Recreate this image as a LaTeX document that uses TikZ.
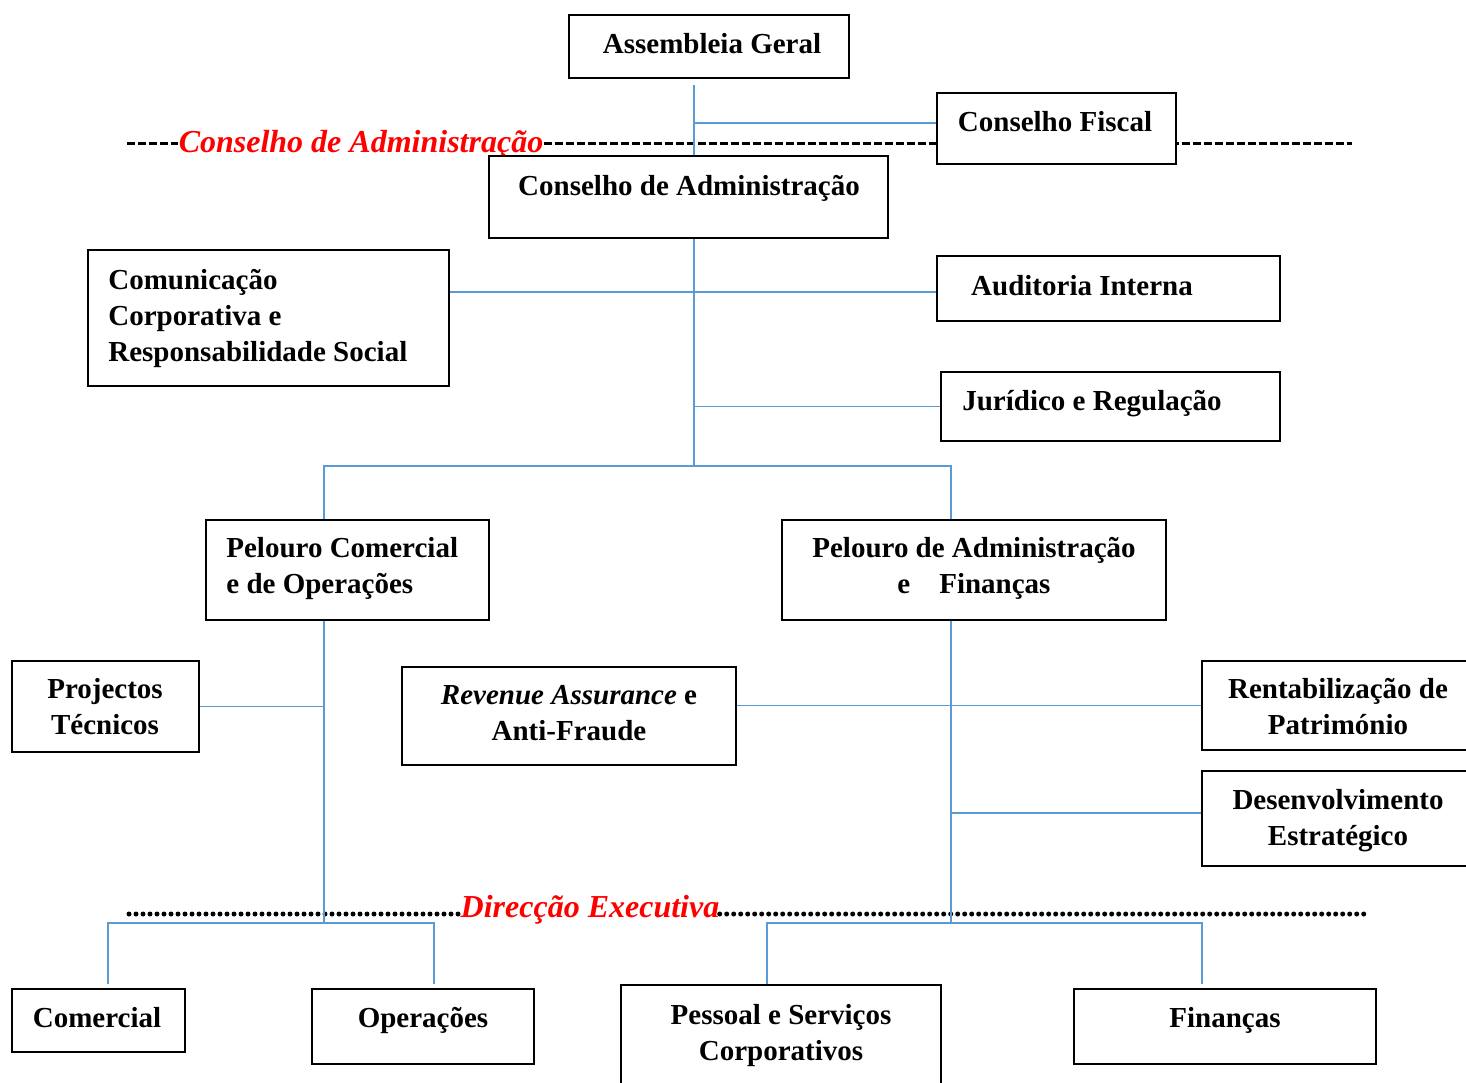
\documentclass[tikz,border=0pt]{standalone}
\usepackage{fontspec}
\setmainfont{Liberation Serif}
\usetikzlibrary{fit}
\definecolor{orgblue}{RGB}{91,155,213}
\definecolor{orgred}{RGB}{255,0,0}

\begin{document}
\begin{tikzpicture}[
  x=0.5pt,y=-0.5pt,
  font=\fontsize{14.5}{18}\selectfont\bfseries,
  box/.style={draw,line width=0.8pt,fill=white,inner sep=0pt},
  lbl/.style={inner sep=0pt,anchor=base},
  mlbl/.style={inner sep=0pt,anchor=north,align=center},
  llbl/.style={inner sep=0pt,anchor=north west,align=left},
  link/.style={orgblue,line width=0.75pt},
  tier/.style={font=\fontsize{16}{19}\selectfont\bfseries\itshape,text=orgred,inner sep=0pt,anchor=base},
  dashline/.style={line width=1.5pt,dash pattern=on 4pt off 1.5pt},
  dotline/.style={line width=2.5pt,dash pattern=on 0pt off 3.5pt,line cap=round},
  ]
  \useasboundingbox (0,0) rectangle (1466,1082);
  % tier separators
  \node[tier] (ca-tag) at (361,152) {Conselho de Administração};
  \coordinate (ca-l) at (127,143);
  \coordinate (ca-r) at (1352,143);
  \draw[dashline] (ca-l) -- (ca-l -| ca-tag.west);
  \draw[dashline] (ca-l -| ca-tag.east) -- (ca-r);
  \node[tier] (de-tag) at (590,917) {Direcção Executiva};
  \coordinate (de-l) at (129,914);
  \coordinate (de-r) at (1366,914);
  \draw[dotline] (de-l) -- (de-l -| de-tag.west);
  \draw[dotline] (de-l -| de-tag.east) -- (de-r);

  % boxes
  \node[box,fit={(569,15) (849,78)}] (ag) {};
  \node[box,fit={(937,93) (1176,164)}] (cf) {};
  \node[box,fit={(489,156) (888,238)}] (cad) {};
  \node[box,fit={(88,250) (449,386)}] (cc) {};
  \node[box,fit={(937,256) (1280,321)}] (ai) {};
  \node[box,fit={(941,372) (1280,441)}] (jr) {};
  \node[box,fit={(206,520) (489,620)}] (pco) {};
  \node[box,fit={(782,520) (1166,620)}] (paf) {};
  \node[box,fit={(12,661) (199,752)}] (pt) {};
  \node[box,fit={(402,667) (736,765)}] (ra) {};
  \node[box,fit={(1202,661) (1480,750)}] (rp) {};
  \node[box,fit={(1202,771) (1480,866)}] (dse) {};
  \node[box,fit={(12,989) (185,1052)}] (com) {};
  \node[box,fit={(312,989) (534,1064)}] (ope) {};
  \node[box,fit={(621,985) (941,1095)}] (psc) {};
  \node[box,fit={(1074,989) (1376,1064)}] (fin) {};

  % connectors
  \coordinate (t0) at (694,85);
  \coordinate (t1) at (694,123);
  \coordinate (t2) at (694,292);
  \coordinate (bl) at (324,466);
  \coordinate (br) at (951,466);
  \coordinate (bl2) at (324,923);
  \coordinate (br2) at (951,923);
  \coordinate (br3) at (951,813);
  \coordinate (dl) at (108,923);
  \coordinate (dr) at (434,923);
  \coordinate (el) at (767,923);
  \coordinate (er) at (1202,923);
  \draw[link] (t0) -- (t0 |- cad.north);
  \draw[link] (t1) -- (t1 -| cf.west);
  \draw[link] (t0 |- cad.south) -- (t0 |- bl);
  \draw[link] (t2 -| cc.east) -- (t2 -| ai.west);
  \draw[link] (jr.west) -- (jr.west -| t0);
  \draw[link] (bl |- pco.north) -- (bl) -- (br) -- (br |- paf.north);
  \draw[link] (bl |- pco.south) -- (bl2);
  \draw[link] (br |- paf.south) -- (br2);
  \draw[link] (pt.east) -- (pt.east -| bl);
  \draw[link] (ra.east |- rp.west) -- (rp.west);
  \draw[link] (br3) -- (br3 -| dse.west);
  \draw[link,shorten <=2pt,shorten >=2pt] (dl |- com.north) -- (dl) -- (dr) -- (dr |- ope.north);
  \draw[link,shorten >=2pt] (el |- psc.north) -- (el) -- (er) -- (er |- fin.north);

  % texts
  \node[lbl] (ag-t) at (712,53) {Assembleia Geral};
  \node[lbl] (cf-t) at (1055,131) {Conselho Fiscal};
  \node[lbl] (cad-t) at (689,195) {Conselho de Administração};
  \node[llbl] (cc-t) at (108,269) {Comunicação\\Corporativa e\\Responsabilidade Social};
  \node[lbl] (ai-t) at (1082,295) {Auditoria Interna};
  \node[lbl] (jr-t) at (1092,410) {Jurídico e Regulação};
  \node[llbl] (pco-t) at (226,537) {Pelouro Comercial\\e de Operações};
  \node[mlbl] (paf-t) at (974,537) {Pelouro de Administração\\e\quad Finanças};
  \node[mlbl] (pt-t) at (105,678) {Projectos\\Técnicos};
  \node[mlbl] (ra-t) at (569,685) {{\itshape Revenue Assurance} e\\Anti-Fraude};
  \node[mlbl] (rp-t) at (1338,678) {Rentabilização de\\Património};
  \node[mlbl] (dse-t) at (1338,789) {Desenvolvimento\\Estratégico};
  \node[lbl] (com-t) at (97,1027) {Comercial};
  \node[lbl] (ope-t) at (423,1027) {Operações};
  \node[mlbl] (psc-t) at (781,1004) {Pessoal e Serviços\\Corporativos};
  \node[lbl] (fin-t) at (1225,1027) {Finanças};
\end{tikzpicture}
\end{document}
